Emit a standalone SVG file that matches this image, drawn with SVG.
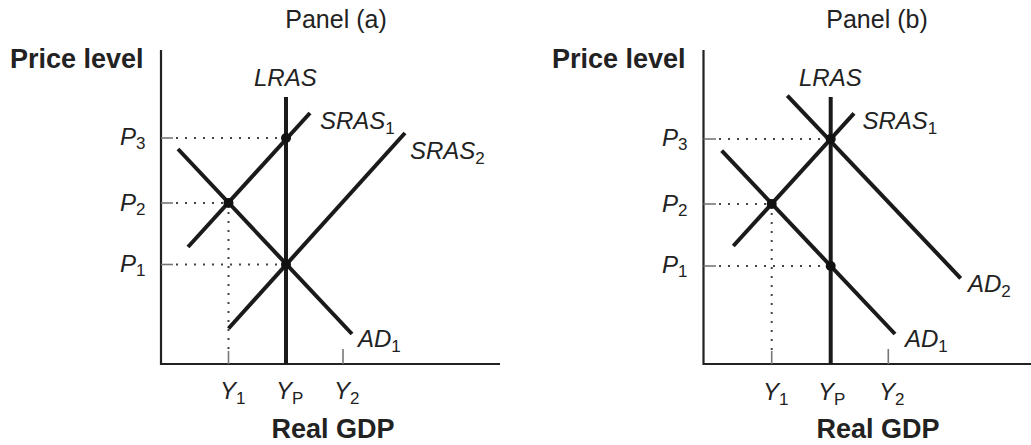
<svg xmlns="http://www.w3.org/2000/svg" width="1031" height="445" viewBox="0 0 1031 445">
<style>
text{font-family:"Liberation Sans",Arial,sans-serif;fill:#222}
.ttl{font-size:25px}
.ax{font-size:27px;font-weight:bold}
.lb{font-size:24px;font-style:italic}
.sub{font-size:17px;font-style:normal}
.axis{stroke:#222;stroke-width:2.2;fill:none}
.tick{stroke:#777;stroke-width:1.6}
.curve{stroke:#1a1a1a;stroke-width:4;fill:none;stroke-linecap:butt}
.dot{stroke:#444;stroke-width:2;stroke-dasharray:2 7;fill:none}
.pt{fill:#111}
</style>
<rect width="1031" height="445" fill="#fff"/>

<g id="panel-a">
  <text class="ttl" x="336" y="28" text-anchor="middle">Panel (a)</text>
  <text class="ax" x="10" y="68">Price level</text>
  <text class="ax" x="333" y="438" text-anchor="middle">Real GDP</text>
  <g id="a-axes">
    <polyline class="axis" points="161,50 161,364 500,364"/>
    <line class="tick" x1="161" y1="138" x2="173" y2="138"/>
    <line class="tick" x1="161" y1="203" x2="173" y2="203"/>
    <line class="tick" x1="161" y1="264.5" x2="173" y2="264.5"/>
    <line class="tick" x1="228.5" y1="351" x2="228.5" y2="364"/>
    <line class="tick" x1="343" y1="349" x2="343" y2="364"/>
  </g>
  <g id="a-guides">
    <line class="dot" x1="176" y1="138" x2="284" y2="138"/>
    <line class="dot" x1="176" y1="203" x2="226" y2="203"/>
    <line class="dot" x1="176" y1="264.5" x2="284" y2="264.5"/>
    <line class="dot" x1="228.5" y1="212" x2="228.5" y2="350"/>
  </g>
  <g id="a-LRAS"><line class="curve" x1="286" y1="97" x2="286" y2="364"/><text class="lb" x="254" y="86">LRAS</text></g>
  <g id="a-SRAS1"><line class="curve" x1="310" y1="113" x2="188" y2="247"/><text class="lb" x="320" y="129">SRAS<tspan class="sub" dy="5">1</tspan></text></g>
  <g id="a-SRAS2"><line class="curve" x1="405" y1="133" x2="228.5" y2="328.5"/><text class="lb" x="410" y="159">SRAS<tspan class="sub" dy="5">2</tspan></text></g>
  <g id="a-AD1"><line class="curve" x1="178" y1="149" x2="352" y2="334"/><text class="lb" x="358" y="346.5">AD<tspan class="sub" dy="5">1</tspan></text></g>
  <g id="a-points">
    <circle class="pt" cx="286" cy="138" r="5"/>
    <circle class="pt" cx="228.5" cy="203" r="5"/>
    <circle class="pt" cx="286" cy="264.5" r="5"/>
  </g>
  <g id="a-labels">
    <text class="lb" x="120" y="145">P<tspan class="sub" dy="4">3</tspan></text>
    <text class="lb" x="120" y="211">P<tspan class="sub" dy="4">2</tspan></text>
    <text class="lb" x="120" y="272">P<tspan class="sub" dy="4">1</tspan></text>
    <text class="lb" x="220" y="399">Y<tspan class="sub" dy="5">1</tspan></text>
    <text class="lb" x="276" y="399">Y<tspan class="sub" dy="5">P</tspan></text>
    <text class="lb" x="334" y="399">Y<tspan class="sub" dy="5">2</tspan></text>
  </g>
</g>

<g id="panel-b">
  <text class="ttl" x="877" y="28" text-anchor="middle">Panel (b)</text>
  <text class="ax" x="552" y="68">Price level</text>
  <text class="ax" x="878" y="438" text-anchor="middle">Real GDP</text>
  <g id="b-axes">
    <polyline class="axis" points="703.5,50 703.5,364 1031,364"/>
    <line class="tick" x1="703.5" y1="139" x2="716" y2="139"/>
    <line class="tick" x1="703.5" y1="204" x2="716" y2="204"/>
    <line class="tick" x1="703.5" y1="266" x2="716" y2="266"/>
    <line class="tick" x1="771.7" y1="351" x2="771.7" y2="364"/>
    <line class="tick" x1="888.3" y1="349" x2="888.3" y2="364"/>
  </g>
  <g id="b-guides">
    <line class="dot" x1="719" y1="139" x2="828" y2="139"/>
    <line class="dot" x1="719" y1="204" x2="769" y2="204"/>
    <line class="dot" x1="719" y1="266" x2="828" y2="266"/>
    <line class="dot" x1="771.7" y1="213" x2="771.7" y2="350"/>
  </g>
  <g id="b-LRAS"><line class="curve" x1="830.7" y1="97" x2="830.7" y2="364"/><text class="lb" x="799" y="86">LRAS</text></g>
  <g id="b-SRAS1"><line class="curve" x1="854" y1="113.3" x2="733.3" y2="246"/><text class="lb" x="862.5" y="128.5">SRAS<tspan class="sub" dy="5">1</tspan></text></g>
  <g id="b-AD2"><line class="curve" x1="787.3" y1="95.7" x2="960.7" y2="278.3"/><text class="lb" x="968" y="291.5">AD<tspan class="sub" dy="5">2</tspan></text></g>
  <g id="b-AD1"><line class="curve" x1="721.7" y1="150.7" x2="895" y2="334"/><text class="lb" x="905" y="346.5">AD<tspan class="sub" dy="5">1</tspan></text></g>
  <g id="b-points">
    <circle class="pt" cx="830.7" cy="139" r="5"/>
    <circle class="pt" cx="771.7" cy="204" r="5"/>
    <circle class="pt" cx="830.7" cy="266" r="5"/>
  </g>
  <g id="b-labels">
    <text class="lb" x="662" y="146">P<tspan class="sub" dy="4">3</tspan></text>
    <text class="lb" x="662" y="212">P<tspan class="sub" dy="4">2</tspan></text>
    <text class="lb" x="662" y="273">P<tspan class="sub" dy="4">1</tspan></text>
    <text class="lb" x="763" y="400">Y<tspan class="sub" dy="5">1</tspan></text>
    <text class="lb" x="818" y="400">Y<tspan class="sub" dy="5">P</tspan></text>
    <text class="lb" x="879" y="400">Y<tspan class="sub" dy="5">2</tspan></text>
  </g>
</g>
</svg>
